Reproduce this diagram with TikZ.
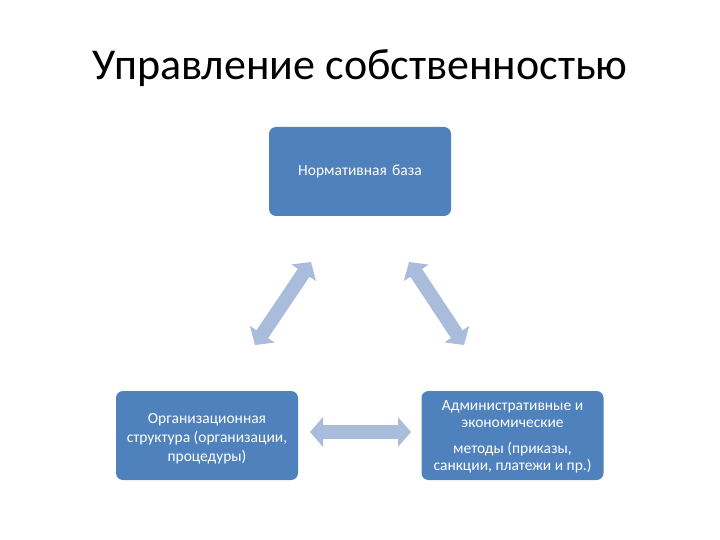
\documentclass[tikz,border=0pt]{standalone}
\usepackage{fontspec}
\setmainfont{Carlito}
\usetikzlibrary{arrows.meta}
\definecolor{boxblue}{HTML}{4F81BD}
\definecolor{arrowblue}{HTML}{A9BCDC}
\tikzset{
  box/.style={fill=boxblue, rounded corners=7pt, minimum width=182pt, minimum height=89pt, inner sep=1pt, text=white, font=\fontsize{15.5}{19}\selectfont, align=center, text width=180pt},
  dblarrow/.style={draw=arrowblue, line width=14pt, {Triangle[length=13pt,width=29pt]}-{Triangle[length=13pt,width=29pt]}}
}
\begin{document}
\begin{tikzpicture}[x=1pt,y=-1pt]
\useasboundingbox (0,0) rectangle (720,540);
\fill[white] (0,0) rectangle (720,540);
\node[font=\fontsize{44}{50}\selectfont] (title) at (360,68) {Управление собственностью};
\node[box] (top) at (360,171.5) {Нормативная база};
\node[box] (bl) at (207,435.5) {};
\node[text=white, font=\fontsize{15.5}{19}\selectfont, align=center] (bltext) at (207,438.5) {Организационная\\структура (организации,\\процедуры)};
\node[box] (br) at (512.5,435.5) {};
\node[text=white, font=\fontsize{15.5}{17}\selectfont, align=center] (brtext) at (512.5,437) {Административные и\\экономические\\[9pt]методы (приказы,\\санкции, платежи и пр.)};
\coordinate (l1) at (311,262);
\coordinate (l2) at (255,345);
\coordinate (r1) at (409,262);
\coordinate (r2) at (464,345);
\coordinate (h1) at (310,432);
\coordinate (h2) at (411,432);
\draw[dblarrow] (l1) -- (l2);
\draw[dblarrow] (r1) -- (r2);
\draw[dblarrow] (h1) -- (h2);
\end{tikzpicture}
\end{document}
